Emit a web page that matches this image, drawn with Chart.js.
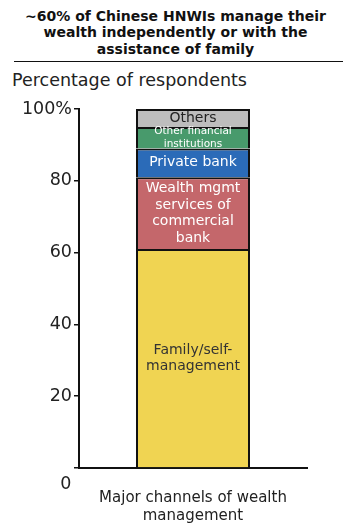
<!DOCTYPE html>
<html>
<head>
<meta charset="utf-8">
<script src="https://cdn.jsdelivr.net/npm/chart.js@4"></script>
<style>
  html, body { margin: 0; padding: 0; background: #fff; }
  #wrap { position: relative; width: 343px; height: 526px; overflow: hidden; font-family: "DejaVu Sans", Verdana, sans-serif; }
  #title {
    position: absolute; left: 8px; top: 8px; width: 335px;
    text-align: center; font-weight: bold; font-size: 14px; line-height: 16.3px; color: #111;
  }
  #rule { position: absolute; left: 14px; top: 60.5px; width: 329px; height: 0; border-top: 1.5px solid #111; }
  #subtitle { position: absolute; left: 12px; top: 69px; font-size: 17.5px; line-height: 22px; color: #222; }
  #chart { position: absolute; left: 0; top: 0; }
</style>
</head>
<body>
<div id="wrap">
  <div id="title">~60% of Chinese HNWIs manage their<br>wealth independently or with the<br>assistance of family</div>
  <div id="rule"></div>
  <div id="subtitle">Percentage of respondents</div>
  <canvas id="chart" width="343" height="526"></canvas>
</div>
<script>
const categories = [["Major channels of wealth", "management"]];

const seriesNames = [
  "Family/self-management",
  "Wealth mgmt services of commercial bank",
  "Private bank",
  "Other financial institutions",
  "Others",
];
const seriesValues = [61, 20, 8, 6, 5];
const seriesColors = ["#f0d452", "#c4676b", "#2b6bb8", "#489a6c", "#bdbdbd"];

// text written inside each segment, line by line
const segmentText = [
  ["Family/self-", "management"],
  ["Wealth mgmt", "services of", "commercial", "bank"],
  ["Private bank"],
  ["Other financial", "institutions"],
  ["Others"],
];
const segmentTextColor = ["#333", "#fff", "#fff", "#fff", "#222"];
const segmentFontSize = [14, 14, 14, 10.5, 14];

const yTicks = [0, 20, 40, 60, 80, 100];

const FONT = '"DejaVu Sans", Verdana, sans-serif';

const datasets = seriesNames.map((name, i) => ({
  label: name,
  data: [seriesValues[i]],
  backgroundColor: seriesColors[i],
  borderColor: "#111",
  borderWidth: 2,
  barPercentage: 0.5,
  categoryPercentage: 1,
}));

const segmentLabels = {
  id: "segmentLabels",
  afterDatasetsDraw(chart) {
    const ctx = chart.ctx;
    ctx.save();
    ctx.textAlign = "center";
    ctx.textBaseline = "middle";
    chart.data.datasets.forEach((ds, i) => {
      const bar = chart.getDatasetMeta(i).data[0];
      const lines = segmentText[i];
      const size = segmentFontSize[i];
      const lh = size < 12 ? 12.5 : 16.5;
      const cy = (bar.y + bar.base) / 2;
      ctx.font = size + "px " + FONT;
      ctx.fillStyle = segmentTextColor[i];
      lines.forEach((t, k) => {
        ctx.fillText(t, bar.x, cy + (k - (lines.length - 1) / 2) * lh);
      });
    });

    // zero label sits below the baseline
    const y = chart.scales.y;
    ctx.font = "17.5px " + FONT;
    ctx.fillStyle = "#222";
    ctx.textAlign = "right";
    ctx.fillText("0", y.right - 7.5, y.getPixelForValue(0) + 16);
    ctx.restore();
  },
};

new Chart(document.getElementById("chart"), {
  type: "bar",
  data: { labels: categories, datasets: datasets },
  options: {
    responsive: false,
    animation: false,
    layout: { padding: { top: 109, right: 36, left: 0, bottom: 0 } },
    plugins: { legend: { display: false }, tooltip: { enabled: false } },
    scales: {
      x: {
        stacked: true,
        grid: { display: false },
        border: { display: true, color: "#111", width: 2 },
        ticks: { font: { family: FONT, size: 15, lineHeight: 1.2 }, color: "#222", padding: 13 },
        afterFit(scale) { scale.height = 58; },
      },
      y: {
        stacked: true,
        min: 0,
        max: 100,
        afterBuildTicks(scale) { scale.ticks = yTicks.map(v => ({ value: v })); },
        grid: { drawOnChartArea: false, drawTicks: true, tickLength: 5, color: "#111", lineWidth: 1.5 },
        border: { display: true, color: "#111", width: 2 },
        ticks: {
          font: { family: FONT, size: 17.5 },
          color: "#222",
          padding: 2,
          callback: v => (v === 100 ? "100%" : v === 0 ? "" : v),
        },
        afterFit(scale) { scale.width = 79; },
      },
    },
  },
  plugins: [segmentLabels],
});
</script>
</body>
</html>
